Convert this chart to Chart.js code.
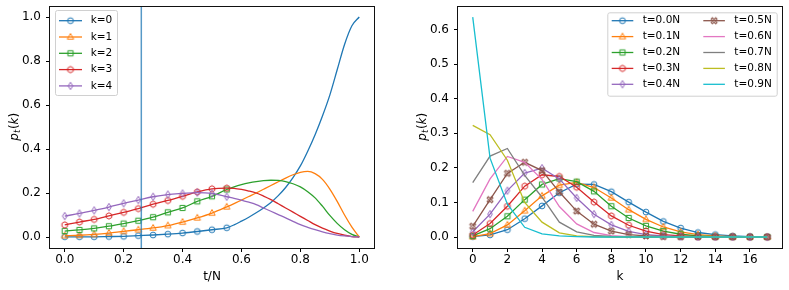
<!DOCTYPE html>
<html>
<head>
<meta charset="utf-8">
<script src="https://cdn.jsdelivr.net/npm/chart.js@4.4.0/dist/chart.umd.min.js"></script>
<style>
html, body { margin: 0; padding: 0; background: #fff; }
#wrap { position: relative; width: 789px; height: 290px; }
#left { position: absolute; left: 0; top: 0; }
#right { position: absolute; left: 394px; top: 0; }
</style>
</head>
<body>
<div id="wrap">
<canvas id="left" width="394" height="290"></canvas>
<canvas id="right" width="395" height="290"></canvas>
</div>
<script>
// ---- left panel: p_t(k) against t/N, one curve per k ----
const tGrid = [0, 0.05, 0.1, 0.15, 0.2, 0.25, 0.3, 0.35, 0.4, 0.45, 0.5, 0.55,
               0.575, 0.6, 0.625, 0.65, 0.675, 0.7, 0.725, 0.75, 0.775,
               0.8, 0.825, 0.85, 0.875, 0.9, 0.925, 0.95, 0.975, 1.0];
const tMarkerMax = 0.55;   // simulated points stop here, the rest is the curve
const tNow = 0.26;         // vertical line
const kLabels = ['k=0', 'k=1', 'k=2', 'k=3', 'k=4'];
const pk0 = [0.001, 0.001, 0.001, 0.002, 0.003, 0.006, 0.009, 0.013, 0.018, 0.025, 0.033, 0.042,
             0.055, 0.072, 0.090, 0.110, 0.132, 0.157, 0.188, 0.225, 0.270,
             0.323, 0.390, 0.465, 0.550, 0.645, 0.760, 0.875, 0.960, 1.000];
const pk1 = [0.006, 0.008, 0.012, 0.018, 0.026, 0.033, 0.041, 0.052, 0.068, 0.087, 0.109, 0.137,
             0.152, 0.168, 0.184, 0.200, 0.217, 0.234, 0.251, 0.268, 0.283,
             0.294, 0.298, 0.288, 0.262, 0.218, 0.162, 0.100, 0.045, 0.000];
const pk2 = [0.027, 0.032, 0.039, 0.049, 0.061, 0.074, 0.090, 0.112, 0.132, 0.162, 0.185, 0.216,
             0.228, 0.238, 0.246, 0.252, 0.256, 0.258, 0.257, 0.252, 0.242,
             0.228, 0.206, 0.178, 0.140, 0.098, 0.062, 0.033, 0.012, 0.000];
const pk3 = [0.055, 0.068, 0.080, 0.096, 0.112, 0.129, 0.149, 0.166, 0.185, 0.205, 0.219, 0.222,
             0.221, 0.216, 0.209, 0.200, 0.186, 0.170, 0.151, 0.132, 0.113,
             0.094, 0.075, 0.056, 0.040, 0.027, 0.016, 0.008, 0.002, 0.000];
const pk4 = [0.095, 0.107, 0.121, 0.136, 0.153, 0.168, 0.183, 0.193, 0.198, 0.202, 0.198, 0.183,
             0.176, 0.168, 0.158, 0.147, 0.132, 0.117, 0.102, 0.087, 0.071,
             0.056, 0.044, 0.033, 0.023, 0.015, 0.009, 0.005, 0.002, 0.000];
const leftTicksX = [0, 0.2, 0.4, 0.6, 0.8, 1.0];
const leftTicksY = [0, 0.2, 0.4, 0.6, 0.8, 1.0];

// ---- right panel: p_t(k) against k, one curve per t ----
const kGrid = [0, 1, 2, 3, 4, 5, 6, 7, 8, 9, 10, 11, 12, 13, 14, 15, 16, 17];
const tLabels = ['t=0.0N', 't=0.1N', 't=0.2N', 't=0.3N', 't=0.4N',
                 't=0.5N', 't=0.6N', 't=0.7N', 't=0.8N', 't=0.9N'];
const pt0 = [0.001, 0.006, 0.021, 0.053, 0.090, 0.128, 0.153, 0.152, 0.131, 0.101, 0.072, 0.045, 0.026, 0.013, 0.007, 0.003, 0.001, 0.0005];
const pt1 = [0.001, 0.010, 0.035, 0.076, 0.119, 0.150, 0.158, 0.143, 0.113, 0.079, 0.051, 0.029, 0.015, 0.007, 0.003, 0.001, 0.0005, 0.0002];
const pt2 = [0.003, 0.024, 0.060, 0.108, 0.152, 0.169, 0.160, 0.132, 0.089, 0.055, 0.032, 0.017, 0.008, 0.003, 0.001, 0.0005, 0.0002, 0.0001];
const pt3 = [0.006, 0.039, 0.089, 0.147, 0.180, 0.175, 0.144, 0.101, 0.061, 0.034, 0.017, 0.007, 0.003, 0.001, 0.0005, 0.0002, 0.0001, 0];
const pt4 = [0.015, 0.066, 0.134, 0.185, 0.199, 0.168, 0.113, 0.066, 0.035, 0.016, 0.007, 0.003, 0.001, 0.0005, 0.0002, 0.0001, 0, 0];
const pt5 = [0.031, 0.108, 0.184, 0.216, 0.192, 0.130, 0.075, 0.037, 0.017, 0.007, 0.003, 0.001, 0.0005, 0.0002, 0.0001, 0, 0, 0];
const pt6 = [0.074, 0.168, 0.233, 0.216, 0.166, 0.088, 0.038, 0.013, 0.004, 0.001, 0.0005, 0.0002, 0, 0, 0, 0, 0, 0];
const pt7 = [0.157, 0.234, 0.256, 0.178, 0.115, 0.043, 0.015, 0.005, 0.002, 0.0005, 0.0002, 0, 0, 0, 0, 0, 0, 0];
const pt8 = [0.323, 0.296, 0.222, 0.100, 0.043, 0.012, 0.003, 0.001, 0, 0, 0, 0, 0, 0, 0, 0, 0, 0];
const pt9 = [0.636, 0.228, 0.095, 0.028, 0.009, 0.003, 0.001, 0, 0, 0, 0, 0, 0, 0, 0, 0, 0, 0];
const rightTicksX = [0, 2, 4, 6, 8, 10, 12, 14, 16];
const rightTicksY = [0, 0.1, 0.2, 0.3, 0.4, 0.5, 0.6];

const tab10 = ['#1f77b4', '#ff7f0e', '#2ca02c', '#d62728', '#9467bd',
               '#8c564b', '#e377c2', '#7f7f7f', '#bcbd22', '#17becf'];
const FONT = '"DejaVu Sans"';

// hollow matplotlib-like markers drawn once into small canvases
function makeMarker(shape, color) {
  if (!shape) return null;
  const c = document.createElement('canvas');
  c.width = 12; c.height = 12;
  const g = c.getContext('2d');
  g.translate(6, 6);
  g.strokeStyle = color;
  g.lineWidth = 1;
  g.beginPath();
  if (shape === 'o') {
    g.arc(0, 0, 2.9, 0, Math.PI * 2);
  } else if (shape === '^') {
    g.moveTo(0, -3.5); g.lineTo(3.2, 2.2); g.lineTo(-3.2, 2.2); g.closePath();
  } else if (shape === 's') {
    g.rect(-2.6, -2.6, 5.2, 5.2);
  } else if (shape === 'h') {
    for (let i = 0; i < 6; i++) {
      const a = Math.PI / 2 + i * Math.PI / 3;
      const px = 3.2 * Math.cos(a), py = -3.2 * Math.sin(a);
      if (i) g.lineTo(px, py); else g.moveTo(px, py);
    }
    g.closePath();
  } else if (shape === 'd') {
    g.moveTo(0, -3.7); g.lineTo(2.3, 0); g.lineTo(0, 3.7); g.lineTo(-2.3, 0); g.closePath();
  } else if (shape === 'X') {
    g.rotate(Math.PI / 4);
    const a = 0.9, b = 3.3;
    const pts = [[a, b], [a, a], [b, a], [b, -a], [a, -a], [a, -b],
                 [-a, -b], [-a, -a], [-b, -a], [-b, a], [-a, a], [-a, b]];
    pts.forEach((p, i) => i ? g.lineTo(p[0], p[1]) : g.moveTo(p[0], p[1]));
    g.closePath();
  }
  g.stroke();
  return c;
}

function linAxis(min, max, ticks, horizontal, size, digits) {
  return {
    type: 'linear', min: min, max: max,
    afterBuildTicks: s => { s.ticks = ticks.map(v => ({ value: v })); },
    afterFit: s => {
      if (horizontal) { s.height = size; s.paddingLeft = 0; s.paddingRight = 0; }
      else { s.width = size; s.paddingTop = 0; s.paddingBottom = 0; }
    },
    grid: { display: true, drawOnChartArea: false, drawTicks: true, tickLength: 4, color: '#000', lineWidth: 1 },
    border: { display: false },
    ticks: {
      color: '#000', font: { family: FONT, size: 12 }, padding: horizontal ? 1 : 5,
      autoSkip: false, maxRotation: 0,
      callback: v => Number(v).toFixed(digits)
    }
  };
}

// frame, vertical line, legend and axis titles, drawn like matplotlib
function mplPlugin(opt) {
  return {
    id: 'mpl',
    afterDatasetsDraw(chart) {
      const ctx = chart.ctx, a = chart.chartArea;
      ctx.save();
      if (opt.vline !== undefined) {
        const x = chart.scales.x.getPixelForValue(opt.vline);
        ctx.strokeStyle = 'rgba(31,119,180,0.75)';
        ctx.lineWidth = 1.5;
        ctx.beginPath(); ctx.moveTo(x, a.top); ctx.lineTo(x, a.bottom); ctx.stroke();
      }
      ctx.strokeStyle = '#111';
      ctx.lineWidth = 1;
      ctx.strokeRect(a.left - 0.5, a.top + 0.5, a.right - a.left + 1, a.bottom - a.top);
      ctx.restore();
    },
    afterDraw(chart) {
      const ctx = chart.ctx, a = chart.chartArea, L = opt.legend;
      ctx.save();
      // legend box
      ctx.fillStyle = 'rgba(255,255,255,0.8)';
      ctx.strokeStyle = '#d0d0d0';
      ctx.lineWidth = 1;
      ctx.beginPath();
      ctx.roundRect(L.x + 0.5, L.y + 0.5, L.w, L.h, 2);
      ctx.fill(); ctx.stroke();
      ctx.font = '10.5px ' + FONT;
      ctx.textBaseline = 'middle';
      ctx.fillStyle = '#000';
      chart.data.datasets.forEach((ds, i) => {
        const col = Math.floor(i / L.rows), row = i % L.rows;
        const x0 = L.x + L.lineX + col * L.colW;
        const y = L.y + L.firstY + row * L.rowH;
        ctx.strokeStyle = ds.borderColor;
        ctx.lineWidth = 1.3;
        ctx.beginPath(); ctx.moveTo(x0, y); ctx.lineTo(x0 + L.lineW, y); ctx.stroke();
        if (ds.marker) ctx.drawImage(ds.marker, x0 + L.lineW / 2 - 6, y - 6);
        ctx.fillText(ds.label, x0 + L.lineW + L.gap, y);
      });
      // x title
      ctx.font = '12px ' + FONT;
      ctx.textAlign = 'center';
      ctx.textBaseline = 'alphabetic';
      ctx.fillText(opt.xTitle, (a.left + a.right) / 2, 280);
      // y title p_t(k), mathtext style
      ctx.translate(opt.yTitleX, (a.top + a.bottom) / 2);
      ctx.rotate(-Math.PI / 2);
      const parts = [
        { t: 'p', f: 'italic 12px ' + FONT, dy: 0 },
        { t: 't', f: 'italic 8.5px ' + FONT, dy: 2.4 },
        { t: '(', f: '12px ' + FONT, dy: 0 },
        { t: 'k', f: 'italic 12px ' + FONT, dy: 0 },
        { t: ')', f: '12px ' + FONT, dy: 0 }
      ];
      let total = 0;
      parts.forEach(p => { ctx.font = p.f; p.w = ctx.measureText(p.t).width; total += p.w; });
      let x = -total / 2;
      ctx.textAlign = 'left';
      parts.forEach(p => { ctx.font = p.f; ctx.fillText(p.t, x, p.dy); x += p.w + (p.t === 't' ? 0.6 : 0); });
      ctx.restore();
    }
  };
}

function baseOptions(xAxis, yAxis, pad) {
  return {
    responsive: false, animation: false, events: [],
    layout: { padding: pad },
    plugins: { legend: { display: false }, tooltip: { enabled: false } },
    scales: { x: xAxis, y: yAxis }
  };
}

// left chart
const leftSeries = [pk0, pk1, pk2, pk3, pk4];
const leftShapes = ['o', '^', 's', 'h', 'd'];
new Chart(document.getElementById('left'), {
  type: 'line',
  data: {
    datasets: leftSeries.map((ys, i) => {
      const m = makeMarker(leftShapes[i], tab10[i]);
      return {
        label: kLabels[i],
        data: ys.map((y, j) => ({ x: tGrid[j], y: y })),
        borderColor: tab10[i], borderWidth: 1.3,
        marker: m, pointStyle: m,
        pointRadius: c => (c.raw && c.raw.x <= tMarkerMax + 1e-9) ? 3 : 0,
        cubicInterpolationMode: 'monotone', fill: false, order: 10 - i
      };
    })
  },
  options: baseOptions(
    linAxis(-0.05, 1.05, leftTicksX, true, 42, 1),
    linAxis(-0.05, 1.05, leftTicksY, false, 50, 1),
    { top: 6, right: 20, bottom: 0, left: 0 }),
  plugins: [mplPlugin({
    vline: tNow, xTitle: 't/N', yTitleX: 18,
    legend: { x: 55, y: 10, w: 62, h: 85, rows: 5, colW: 0, lineX: 4, lineW: 23, gap: 8.7, firstY: 10.7, rowH: 16.3 }
  })]
});

// right chart
const rightSeries = [pt0, pt1, pt2, pt3, pt4, pt5, pt6, pt7, pt8, pt9];
const rightShapes = ['o', '^', 's', 'h', 'd', 'X', null, null, null, null];
new Chart(document.getElementById('right'), {
  type: 'line',
  data: {
    datasets: rightSeries.map((ys, i) => {
      const m = makeMarker(rightShapes[i], tab10[i]);
      return {
        label: tLabels[i],
        data: ys.map((y, j) => ({ x: kGrid[j], y: y })),
        borderColor: tab10[i], borderWidth: 1.3,
        marker: m, pointStyle: m || 'circle',
        pointRadius: m ? 3 : 0,
        tension: 0, fill: false, order: 20 - i
      };
    })
  },
  options: baseOptions(
    linAxis(-0.85, 17.85, rightTicksX, true, 42, 0),
    linAxis(-0.0318, 0.668, rightTicksY, false, 64, 1),
    { top: 6, right: 7, bottom: 0, left: 0 }),
  plugins: [mplPlugin({
    xTitle: 'k', yTitleX: 31.5,
    legend: { x: 213.3, y: 12.3, w: 169.4, h: 83.4, rows: 5, colW: 91.6, lineX: 4.4, lineW: 21.6, gap: 9.4, firstY: 8.4, rowH: 15.9 }
  })]
});
</script>
</body>
</html>
